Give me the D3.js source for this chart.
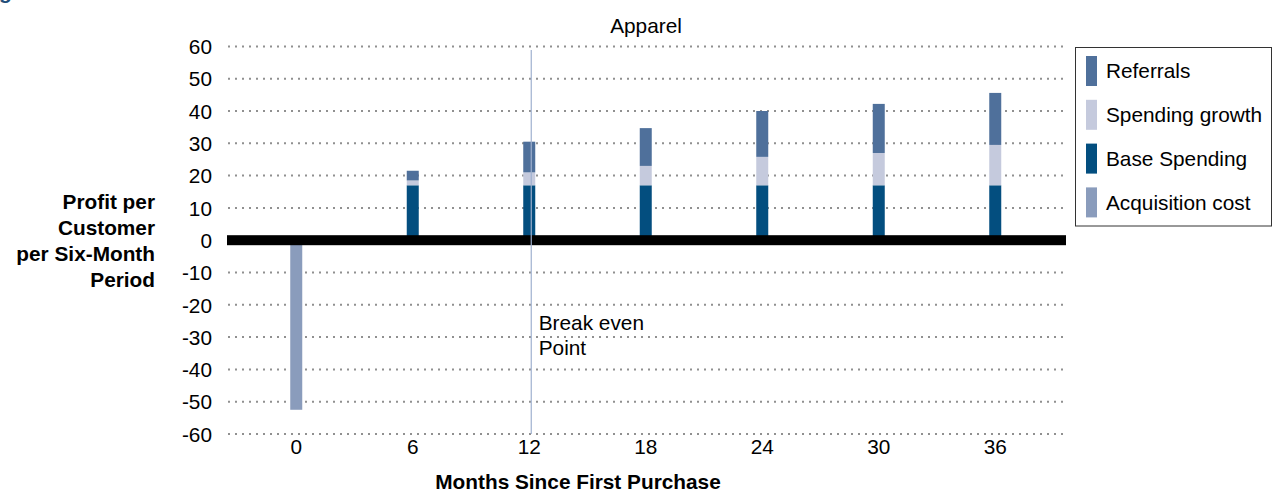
<!DOCTYPE html>
<html>
<head>
<meta charset="utf-8">
<script src="https://cdn.jsdelivr.net/npm/d3@7"></script>
<style>
  body { margin: 0; background: #fff; }
  svg { display: block; font-family: "Liberation Sans", Arial, sans-serif; }
</style>
</head>
<body>
<div class="svg-container"></div>
<script>
// chart data
const months = ['0', '6', '12', '18', '24', '30', '36'];
const baseSpending = [0, 17, 17, 17, 17, 17, 17];
const spendingGrowth = [0, 1.5, 4, 6, 8.8, 10, 12.5];
const referrals = [0, 3, 9.5, 11.7, 14.2, 15.2, 16.1];
const acquisitionCost = [-52.5, 0, 0, 0, 0, 0, 0];
const yTicks = [-60, -50, -40, -30, -20, -10, 0, 10, 20, 30, 40, 50, 60];
const breakEvenMonth = '12';

const seriesNames = ['Referrals', 'Spending growth', 'Base Spending', 'Acquisition cost'];
const seriesColors = {
  'Referrals': '#4f709b',
  'Spending growth': '#c5cadd',
  'Base Spending': '#034e7f',
  'Acquisition cost': '#8a9cbc'
};

// set up dimensions
const width = 1273;
const height = 492;
const gridLeft = 228;
const gridRight = 1065;
const barWidth = 12;
const fontSize = 20.8;

const svg = d3.select('.svg-container')
  .append('svg')
  .attr('width', width)
  .attr('height', height);

// scales
const x = d3.scaleBand()
  .domain(months)
  .range([238, 1053.5]);

const y = d3.scaleLinear()
  .domain([-60, 60])
  .range([434, 46.4]);

// cut-off heading glyph at the very top left
svg.append('text')
  .attr('x', -1)
  .attr('y', -1.5)
  .style('font-size', '21px')
  .style('font-weight', 'bold')
  .style('fill', '#1f4e79')
  .text('g');

// dotted gridlines
svg.append('g')
  .selectAll('line')
  .data(yTicks.filter(d => d !== 0))
  .enter()
  .append('line')
  .attr('x1', gridLeft)
  .attr('x2', gridRight)
  .attr('y1', d => y(d))
  .attr('y2', d => y(d))
  .attr('stroke', '#909090')
  .attr('stroke-width', 2)
  .attr('stroke-dasharray', '2,5');

// y axis labels (plain hyphen for negatives, like the original)
const yAxis = svg.append('g')
  .attr('transform', `translate(${gridLeft - 16},0)`)
  .call(d3.axisLeft(y).tickValues(yTicks).tickSize(0).tickPadding(0).tickFormat(d => String(d)));
yAxis.select('.domain').remove();
yAxis.selectAll('text')
  .style('font-size', `${fontSize}px`)
  .style('font-family', '"Liberation Sans", Arial, sans-serif')
  .style('fill', '#000')
  .attr('dy', '0.35em');

// x axis labels
const xAxis = svg.append('g')
  .attr('transform', 'translate(0,433)')
  .call(d3.axisBottom(x).tickSize(0).tickPadding(0));
xAxis.select('.domain').remove();
xAxis.selectAll('text')
  .style('font-size', `${fontSize}px`)
  .style('font-family', '"Liberation Sans", Arial, sans-serif')
  .style('fill', '#000')
  .attr('dy', '21px');

// stacked positive bars
const rows = months.map((m, i) => ({
  month: m,
  'Base Spending': baseSpending[i],
  'Spending growth': spendingGrowth[i],
  'Referrals': referrals[i]
}));

const stack = d3.stack()
  .keys(['Base Spending', 'Spending growth', 'Referrals']);

const barX = m => x(m) + x.bandwidth() / 2 - barWidth / 2;

svg.append('g')
  .selectAll('g')
  .data(stack(rows))
  .enter()
  .append('g')
  .style('fill', d => seriesColors[d.key])
  .selectAll('rect')
  .data(d => d.filter(p => p[1] > p[0]))
  .enter()
  .append('rect')
  .attr('x', d => barX(d.data.month))
  .attr('width', barWidth)
  .attr('y', d => y(d[1]))
  .attr('height', d => y(d[0]) - y(d[1]));

// acquisition cost (negative)
svg.append('g')
  .selectAll('rect')
  .data(months.map((m, i) => ({ month: m, value: acquisitionCost[i] })).filter(d => d.value < 0))
  .enter()
  .append('rect')
  .attr('x', d => barX(d.month))
  .attr('width', barWidth)
  .attr('y', y(0))
  .attr('height', d => y(d.value) - y(0))
  .style('fill', seriesColors['Acquisition cost']);

// thick zero line
svg.append('rect')
  .attr('x', gridLeft - 1)
  .attr('y', y(0) - 5)
  .attr('width', gridRight - gridLeft + 2)
  .attr('height', 10)
  .style('fill', '#000');

// break even marker
const beX = x(breakEvenMonth) + x.bandwidth() / 2 + 2;
svg.append('line')
  .attr('x1', beX)
  .attr('x2', beX)
  .attr('y1', 50)
  .attr('y2', y(-60))
  .attr('stroke', '#9fb0cf')
  .attr('stroke-width', 1.2);

svg.append('text')
  .attr('x', beX + 7.5)
  .attr('y', 330)
  .style('font-size', `${fontSize}px`)
  .selectAll('tspan')
  .data(['Break even', 'Point'])
  .enter()
  .append('tspan')
  .attr('x', beX + 7.5)
  .attr('dy', (d, i) => i === 0 ? 0 : 25)
  .text(d => d);

// chart title
svg.append('text')
  .attr('x', 646)
  .attr('y', 32.5)
  .attr('text-anchor', 'middle')
  .style('font-size', `${fontSize}px`)
  .text('Apparel');

// axis titles
svg.append('text')
  .attr('text-anchor', 'end')
  .style('font-size', `${fontSize}px`)
  .style('font-weight', 'bold')
  .selectAll('tspan')
  .data(['Profit per', 'Customer', 'per Six-Month', 'Period'])
  .enter()
  .append('tspan')
  .attr('x', 155)
  .attr('y', (d, i) => 208.5 + i * 26)
  .text(d => d);

svg.append('text')
  .attr('x', 578)
  .attr('y', 489)
  .attr('text-anchor', 'middle')
  .style('font-size', `${fontSize}px`)
  .style('font-weight', 'bold')
  .text('Months Since First Purchase');

// legend
const legend = svg.append('g');
legend.append('rect')
  .attr('x', 1075.5)
  .attr('y', 47.5)
  .attr('width', 196)
  .attr('height', 178.5)
  .style('fill', '#fff')
  .style('stroke', '#333')
  .style('stroke-width', 1);

const legendItem = legend.selectAll('.item')
  .data(seriesNames)
  .enter()
  .append('g')
  .attr('class', 'item')
  .attr('transform', (d, i) => `translate(1086,${56 + i * 43.8})`);

legendItem.append('rect')
  .attr('width', 11)
  .attr('height', 30)
  .style('fill', d => seriesColors[d]);

legendItem.append('text')
  .attr('x', 20)
  .attr('y', 15)
  .attr('dy', '0.35em')
  .style('font-size', `${fontSize}px`)
  .text(d => d);
</script>
</body>
</html>
